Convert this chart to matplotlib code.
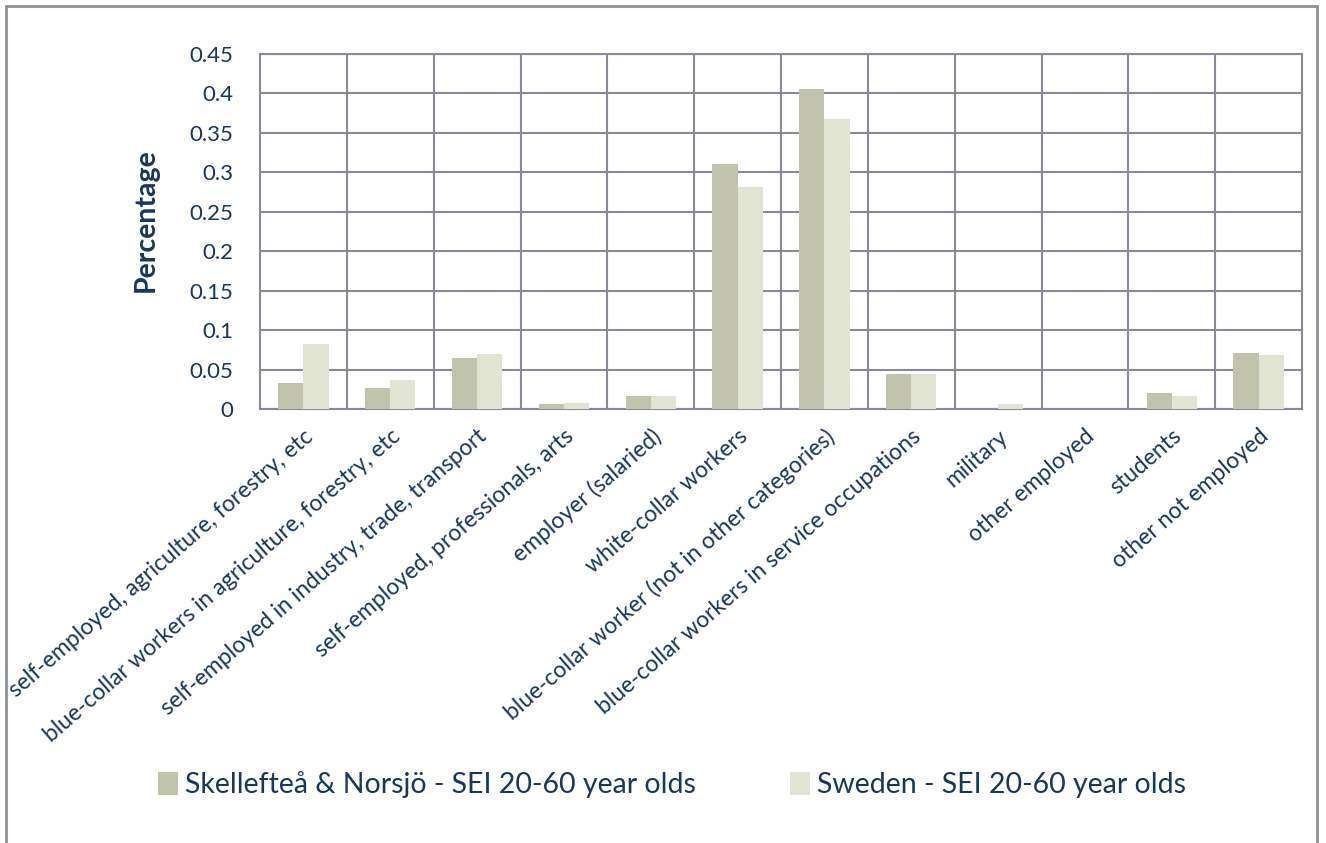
import numpy as np
from matplotlib import pyplot as plt
from matplotlib.patches import Rectangle

categories = ["self-employed, agriculture, forestry, etc",
              "blue-collar workers in agriculture, forestry, etc",
              "self-employed in industry, trade, transport",
              "self-employed, professionals, arts",
              "employer (salaried)",
              "white-collar workers",
              "blue-collar worker (not in other categories)",
              "blue-collar workers in service occupations",
              "military",
              "other employed",
              "students",
              "other not employed"]
skelleftea = [0.033, 0.026, 0.065, 0.006, 0.017, 0.310, 0.406, 0.044, 0.0, 0.0, 0.020, 0.071]
sweden = [0.083, 0.037, 0.070, 0.007, 0.016, 0.281, 0.368, 0.044, 0.006, 0.0, 0.017, 0.068]
yticks = [0, 0.05, 0.1, 0.15, 0.2, 0.25, 0.3, 0.35, 0.4, 0.45]
ytick_labels = ["0", "0.05", "0.1", "0.15", "0.2", "0.25", "0.3", "0.35", "0.4", "0.45"]
series_names = ["Skellefteå & Norsjö - SEI 20-60 year olds", "Sweden - SEI 20-60 year olds"]

navy = "#17375E"
gridc = "#878A9A"
plt.rcParams['font.family'] = ['Lato', 'DejaVu Sans']

fig = plt.figure(figsize=(13.26, 8.43), dpi=100)
ax = fig.add_axes([260/1326, 1-409/843, (1302-260)/1326, (409-54)/843])

x = np.arange(len(categories))
w = 0.29
b1 = ax.bar(x - w/2, skelleftea, w, color="#C1C3AD", zorder=3, label=series_names[0])
b2 = ax.bar(x + w/2, sweden, w, color="#E1E3D3", zorder=3, label=series_names[1])

ax.set_xlim(-0.5, len(categories) - 0.5)
ax.set_ylim(0, 0.45)
ax.set_yticks(yticks)
ax.set_yticklabels(ytick_labels, fontsize=16, color=navy)
ax.set_xticks(x)
ax.set_xticklabels(categories, rotation=41, ha='right', va='top',
                   rotation_mode='anchor', fontsize=16.5, color=navy)
ax.tick_params(length=0)
ax.tick_params(axis='y', pad=19)
ax.tick_params(axis='x', pad=12)

# horizontal value grid and vertical category dividers
ax.yaxis.grid(True, color=gridc, lw=1.5, zorder=0)
for b in np.arange(0.5, len(categories) - 0.5, 1):
    ax.axvline(b, color=gridc, lw=1.5, zorder=0)
for s in ax.spines.values():
    s.set_color(gridc)
    s.set_linewidth(1.5)

ax.set_ylabel("Percentage", fontsize=20.5, fontweight='bold', color=navy)
ax.yaxis.set_label_coords(-0.097, 0.532)

fig.legend(handles=[b1, b2], loc='center', bbox_to_anchor=(0.507, 1-785/843),
           ncol=2, frameon=False, fontsize=20.5, handlelength=0.7, handleheight=0.9,
           handletextpad=0.25, columnspacing=3.3, labelcolor=navy)

# outer chart border
fig.patches.append(Rectangle((6/1326, -0.05), (1317-6)/1326, 1.05 - 6/843,
                             transform=fig.transFigure, fill=False,
                             edgecolor="#8E8F9E", lw=2))

fig.savefig("out.png", dpi=100)
